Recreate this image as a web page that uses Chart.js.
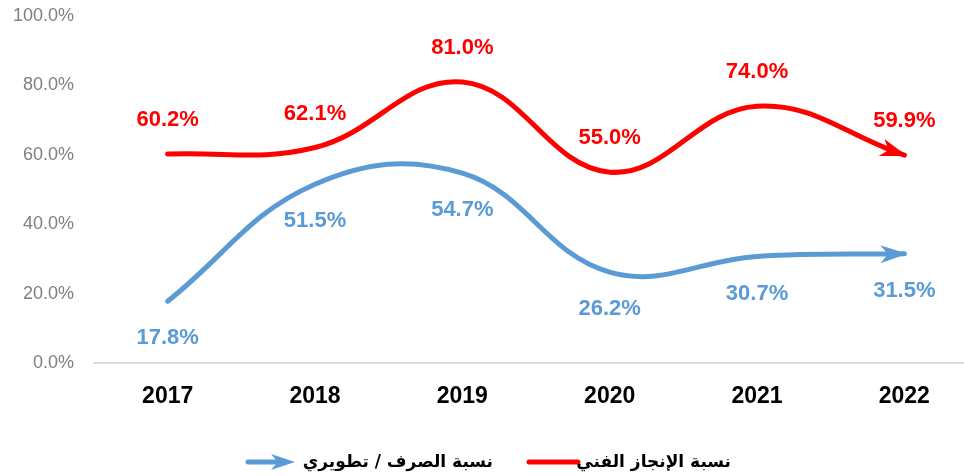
<!DOCTYPE html>
<html>
<head>
<meta charset="utf-8">
<script src="https://cdn.jsdelivr.net/npm/chart.js@4.4.1/dist/chart.umd.min.js"></script>
<style>
    body { margin: 0; overflow: hidden; background: #ffffff; }
    #wrap { width: 980px; height: 476px; }
</style>
</head>
<body>
<div id="wrap"><canvas id="lineChart" width="980" height="476"></canvas></div>
<script>
// Chart data
const years = ['2017', '2018', '2019', '2020', '2021', '2022'];
const technicalProgress = [60.2, 62.1, 81.0, 55.0, 74.0, 59.9];
const spendingRatio = [17.8, 51.5, 54.7, 26.2, 30.7, 31.5];
const yTicks = [0, 20, 40, 60, 80, 100];

const technicalLabel = 'نسبة الإنجاز الفني';
const spendingLabel = 'نسبة الصرف / تطويري';

const colors = {
    red: '#ff0000',
    blue: '#5b9bd5',
    axis: '#d9d9d9',
    tick: '#7f7f7f'
};

// arrow head helper
function drawArrowHead(ctx, x, y, angle, color, len, half) {
    ctx.save();
    ctx.translate(x, y);
    ctx.rotate(angle);
    ctx.fillStyle = color;
    ctx.beginPath();
    ctx.moveTo(0, 0);
    ctx.lineTo(-len, -half);
    ctx.lineTo(-len * 0.72, 0);
    ctx.lineTo(-len, half);
    ctx.closePath();
    ctx.fill();
    ctx.restore();
}

// Arrows at the end of each line + value labels
const decorPlugin = {
    id: 'decor',
    afterDatasetsDraw(chart) {
        const ctx = chart.ctx;
        chart.data.datasets.forEach((ds, i) => {
            const meta = chart.getDatasetMeta(i);
            const pts = meta.data;
            const last = pts[pts.length - 1];
            const angle = Math.atan2(last.y - last.cp1y, last.x - last.cp1x);
            const tipX = last.x + Math.cos(angle) * 3;
            const tipY = last.y + Math.sin(angle) * 3;
            drawArrowHead(ctx, tipX, tipY, angle, ds.borderColor, 27, 9);

            ctx.save();
            ctx.font = 'bold 22px "Liberation Sans", Arial, sans-serif';
            ctx.fillStyle = ds.borderColor;
            ctx.textAlign = 'center';
            ctx.textBaseline = 'middle';
            pts.forEach((p, j) => {
                ctx.fillText(ds.data[j].toFixed(1) + '%', p.x, p.y + ds.labelOffset);
            });
            ctx.restore();
        });
    },
    afterDraw(chart) {
        // legend (right to left)
        const ctx = chart.ctx;
        const y = 462;
        ctx.save();
        ctx.lineCap = 'round';

        ctx.strokeStyle = colors.blue;
        ctx.lineWidth = 5;
        ctx.beginPath();
        ctx.moveTo(248, y);
        ctx.lineTo(282, y);
        ctx.stroke();
        drawArrowHead(ctx, 295, y, 0, colors.blue, 24, 8);

        ctx.strokeStyle = colors.red;
        ctx.beginPath();
        ctx.moveTo(529, y);
        ctx.lineTo(578, y);
        ctx.stroke();

        ctx.font = 'bold 17px "DejaVu Sans", sans-serif';
        ctx.fillStyle = '#000000';
        ctx.direction = 'rtl';
        ctx.textAlign = 'right';
        ctx.textBaseline = 'middle';
        ctx.fillText(spendingLabel, 493, y + 1);
        ctx.fillText(technicalLabel, 731, y + 1);
        ctx.restore();
    }
};

const lineCtx = document.getElementById('lineChart').getContext('2d');

const lineChart = new Chart(lineCtx, {
    type: 'line',
    data: {
        labels: years,
        datasets: [
            {
                label: spendingLabel,
                data: spendingRatio,
                borderColor: colors.blue,
                borderWidth: 5,
                tension: 0.4,
                pointRadius: 0,
                borderCapStyle: 'round',
                labelOffset: 37
            },
            {
                label: technicalLabel,
                data: technicalProgress,
                borderColor: colors.red,
                borderWidth: 5,
                tension: 0.4,
                pointRadius: 0,
                borderCapStyle: 'round',
                labelOffset: -34
            }
        ]
    },
    options: {
        responsive: false,
        animation: false,
        layout: {
            padding: { top: 16, bottom: 59, left: 0, right: 2 }
        },
        plugins: {
            legend: { display: false },
            tooltip: { enabled: false }
        },
        scales: {
            x: {
                offset: true,
                grid: { display: false, drawTicks: false },
                border: { display: true, color: colors.axis, width: 2 },
                ticks: {
                    color: '#000000',
                    padding: 20,
                    font: { family: '"Liberation Sans", Arial, sans-serif', size: 23, weight: 'bold' }
                },
                afterFit(scale) { scale.height = 54; }
            },
            y: {
                min: 0,
                max: 100,
                afterBuildTicks(scale) {
                    scale.ticks = yTicks.map(v => ({ value: v }));
                },
                grid: { display: false, drawTicks: false },
                border: { display: false },
                ticks: {
                    color: colors.tick,
                    padding: 20,
                    font: { family: '"Liberation Sans", Arial, sans-serif', size: 18 },
                    callback: v => v.toFixed(1) + '%'
                },
                afterFit(scale) {
                    scale.width = 94;
                    // tick padding should not push the plot down
                    scale.paddingTop = 8;
                    scale.paddingBottom = 8;
                }
            }
        }
    },
    plugins: [decorPlugin]
});
</script>
</body>
</html>
